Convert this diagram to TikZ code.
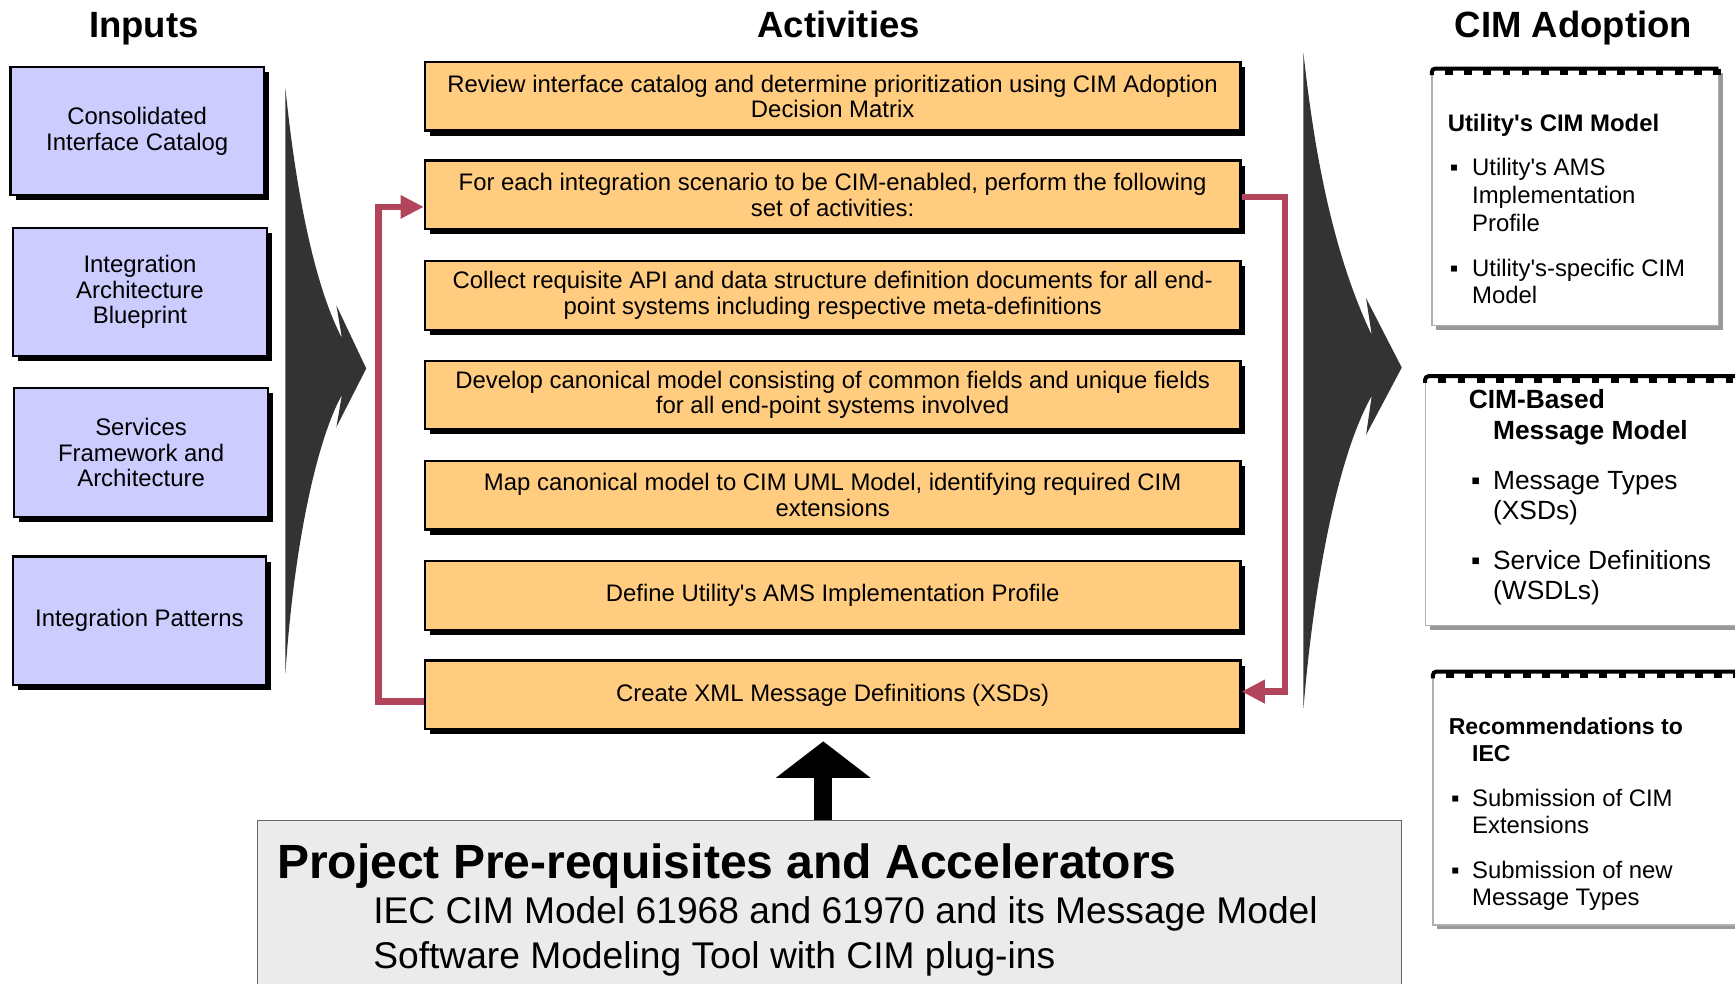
\documentclass[tikz,border=0pt]{standalone}
\usepackage{fontspec}
\setmainfont{Liberation Sans}
\usetikzlibrary{arrows.meta,shadows}
\definecolor{lav}{HTML}{CCCCFF}
\definecolor{org}{HTML}{FFCC80}
\definecolor{loopred}{RGB}{178,68,92}
\definecolor{bigarrow}{HTML}{333333}
\definecolor{prefill}{HTML}{EBEBEB}
\definecolor{cardshadow}{HTML}{999999}
\definecolor{cardborder}{HTML}{B0B0B0}
\newcommand{\fsz}[2]{\fontsize{#1}{#2}\selectfont}
\newcommand{\q}{\textquotesingle}
\newcommand{\cardshape}[5]{%
  \fill[cardshadow] ({#1+4},{#2+4}) rectangle ({#3+4},{#4+4});
  \draw[cardborder,line width=0.6pt,fill=white] (#1,#2) rectangle (#3,#4);
  \draw[black,line width=1.8pt,rounded corners=1.5pt] (#1,{#2+6}) -- (#1,#2) -- (#3,#2);
  \foreach \k in {0,...,#5} {\fill[black] ({#1+12+17.3*\k},#2) rectangle ++(7,6);}
}
\begin{document}
\begin{tikzpicture}[x=0.5pt,y=-0.5pt,
  title/.style={anchor=base,font=\bfseries\fsz{16.5}{20}},
  inbox/.style={draw=black,line width=1pt,fill=lav,minimum width=114.5pt,minimum height=58pt,
    inner sep=0pt,align=center,font=\fsz{10.8}{11.5},
    drop shadow={shadow xshift=2.3pt,shadow yshift=-2.3pt,fill=black,opacity=1}},
  actbox/.style={draw=black,line width=1pt,fill=org,minimum width=368.5pt,minimum height=31pt,
    inner sep=0pt,align=center,font=\fsz{10.8}{11.5},
    drop shadow={shadow xshift=2.3pt,shadow yshift=-2.3pt,fill=black,opacity=1}},
  loopline/.style={draw=loopred,line width=2.8pt,-{Triangle[length=10.5pt,width=10pt]}},
  bigarr/.style={fill=bigarrow},
  ctxt/.style={anchor=base west,align=left,inner sep=0pt,font=\fsz{10.8}{12.6}},
  chead/.style={anchor=base west,align=left,inner sep=0pt,font=\bfseries\fsz{10.8}{12.6}},
  ctxtb/.style={anchor=base west,align=left,inner sep=0pt,font=\fsz{11.9}{13.5}},
  cheadb/.style={anchor=base west,align=left,inner sep=0pt,font=\bfseries\fsz{11.9}{14}},
]
\clip (0,0) rectangle (1568,889);
\fill[white] (0,0) rectangle (1568,889);

% titles
\node[title] (tin) at (130,34) {Inputs};
\node[title] (tact) at (758,34) {Activities};
\node[title] (tcim) at (1422,34) {CIM Adoption};

% input boxes
\node[inbox] (in1) at (124,118.5) {Consolidated\\Interface Catalog};
\node[inbox] (in2) at (126.5,264) {Integration\\Architecture\\Blueprint};
\node[inbox] (in3) at (127.5,409) {Services\\Framework and\\Architecture};
\node[inbox] (in4) at (126,561) {Integration Patterns};

% big arrows
\fill[bigarr] (258,80) .. controls (265,150) and (280,250) .. (309,305.5) -- (304,276) -- (331,333)
  -- (304,386) -- (309,357) .. controls (285,400) and (265,500) .. (258,608) -- cycle;
\fill[bigarr] (1178,48) .. controls (1188,140) and (1205,230) .. (1239.7,302.8) -- (1234.6,269.5)
  -- (1266.8,332.2) -- (1234.6,393) -- (1239.7,357.7) .. controls (1210,410) and (1188,520) .. (1178,640) -- cycle;

% activity boxes
\node[actbox] (a1) at (752.5,87) {Review interface catalog and determine prioritization using CIM Adoption\\Decision Matrix};
\node[actbox] (a2) at (752.5,176) {For each integration scenario to be CIM-enabled, perform the following\\set of activities:};
\node[actbox] (a3) at (752.5,267) {Collect requisite API and data structure definition documents for all end-\\point systems including respective meta-definitions};
\node[actbox] (a4) at (752.5,357) {Develop canonical model consisting of common fields and unique fields\\for all end-point systems involved};
\node[actbox] (a5) at (752.5,447.5) {Map canonical model to CIM UML Model, identifying required CIM\\extensions};
\node[actbox] (a6) at (752.5,538) {Define Utility\q s AMS Implementation Profile};
\node[actbox] (a7) at (752.5,628) {Create XML Message Definitions (XSDs)};

% loop connectors
\draw[loopline] ([yshift=-3pt]a7.west) -- ++(-41,0) |- ([yshift=-5.5pt]a2.west);
\draw[loopline] ([yshift=-1pt]a2.east) -- ++(39,0) |- ([yshift=1.5pt]a7.east);

% CIM adoption cards
\cardshape{1294}{62}{1553}{294}{14}
\cardshape{1288}{340}{1580}{565}{16}
\cardshape{1295}{607}{1580}{836}{16}

\node[chead] (c1h) at (1308,118.5) {Utility\q s CIM Model};
\node[ctxt] (c1b1) at (1310,158.5) {▪};
\node[ctxt] (c1t1) at (1330,208.9) {Utility\q s AMS\\Implementation\\Profile};
\node[ctxt] (c1b2) at (1310,249.5) {▪};
\node[ctxt] (c1t2) at (1330,274.7) {Utility\q s-specific CIM\\Model};

\node[cheadb] (c2h1) at (1327,369.5) {CIM-Based};
\node[cheadb] (c2h2) at (1349,397.5) {Message Model};
\node[ctxtb] (c2b1) at (1329,442.5) {▪};
\node[ctxtb] (c2t1) at (1349,469.5) {Message Types\\(XSDs)};
\node[ctxtb] (c2b2) at (1329,514.5) {▪};
\node[ctxtb] (c2t2) at (1349,541.5) {Service Definitions\\(WSDLs)};

\node[chead,font=\bfseries\fsz{10.4}{12.5}] (c3h1) at (1309,663.5) {Recommendations to};
\node[chead,font=\bfseries\fsz{10.4}{12.5}] (c3h2) at (1330,688.5) {IEC};
\node[ctxt] (c3b1) at (1311,728.5) {▪};
\node[ctxt] (c3t1) at (1330,753.7) {Submission of CIM\\Extensions};
\node[ctxt] (c3b2) at (1311,793.5) {▪};
\node[ctxt] (c3t2) at (1330,818.7) {Submission of new\\Message Types};

% prerequisites box
\node[draw=black!60,line width=0.6pt,fill=prefill,anchor=north west,minimum width=517pt,minimum height=85pt,inner sep=0pt] (pre) at (232,741) {};
\node[anchor=base west,inner sep=0pt,font=\bfseries\fsz{21.7}{26}] (preh) at (250,793.5) {Project Pre-requisites and Accelerators};
\node[anchor=base west,inner sep=0pt,font=\fsz{16.8}{20}] (pre1) at (337,835) {IEC CIM Model 61968 and 61970 and its Message Model};
\node[anchor=base west,inner sep=0pt,font=\fsz{16.8}{20}] (pre2) at (337,875) {Software Modeling Tool with CIM plug-ins};

% up arrow
\coordinate (uptip) at (744,670);
\draw[black,line width=8pt,-{Triangle[length=16.5pt,width=42pt]}] (pre.north -| uptip) -- (uptip);
\end{tikzpicture}
\end{document}
